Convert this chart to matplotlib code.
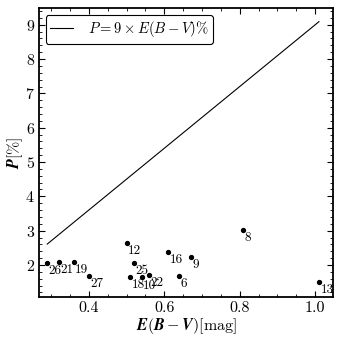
import matplotlib
matplotlib.use("Agg")
import matplotlib.pyplot as plt
from matplotlib.ticker import AutoMinorLocator
import numpy as np

plt.rcParams['font.family'] = 'serif'
plt.rcParams['font.serif'] = ['cmr10', 'DejaVu Serif']
plt.rcParams['mathtext.fontset'] = 'cm'
plt.rcParams['axes.formatter.use_mathtext'] = True

ids = ['26', '21', '19', '27', '12', '25', '18', '10', '22', '16', '6', '9', '8', '13']
ebv = [0.29, 0.32, 0.36, 0.40, 0.50, 0.52, 0.51, 0.54, 0.56, 0.61, 0.64, 0.67, 0.81, 1.01]
pol = [2.05, 2.10, 2.08, 1.68, 2.65, 2.05, 1.65, 1.64, 1.70, 2.39, 1.68, 2.24, 3.02, 1.50]

line_x = np.array([0.29, 1.01])
slope = 9

fig = plt.figure(figsize=(3.43, 3.41), dpi=100)
ax = fig.add_axes([0.1137, 0.13, 0.858, 0.8457])

ax.plot(line_x, slope * line_x, color='black', lw=0.8,
        label=r'$P = 9 \times E(B-V)\%$')
ax.plot(ebv, pol, 'o', color='black', ms=2.8, ls='none')
for i, x, y in zip(ids, ebv, pol):
    ax.annotate(i, (x, y), xytext=(1.0, -1.5), textcoords='offset points',
                ha='left', va='top', fontsize=9.5)

ax.set_xlim(0.268, 1.048)
ax.set_ylim(1.076, 9.48)
ax.set_xticks([0.4, 0.6, 0.8, 1.0])
ax.set_xticklabels(['0.4', '0.6', '0.8', '1.0'])
ax.set_yticks([2, 3, 4, 5, 6, 7, 8, 9])
ax.xaxis.set_minor_locator(AutoMinorLocator())
ax.yaxis.set_minor_locator(AutoMinorLocator())
ax.tick_params(which='both', direction='in', top=True, right=True, labelsize=11.5)
ax.tick_params(which='major', length=4, width=0.8, pad=3)
ax.tick_params(which='minor', length=2, width=0.6)
for s in ax.spines.values():
    s.set_linewidth(1.3)

ax.set_xlabel(r'$\boldsymbol{E(B-V)}$[mag]', fontsize=11.5, labelpad=1)
ax.set_ylabel(r'$\boldsymbol{P}$[%]', fontsize=11.5, labelpad=0)

leg = ax.legend(loc='upper left', fontsize=10.5, frameon=True, fancybox=True,
                edgecolor='black', framealpha=1, handlelength=1.6,
                handletextpad=1.0, borderaxespad=0.45, borderpad=0.3)
leg.get_frame().set_linewidth(0.8)

fig.savefig('out.png', dpi=100)
